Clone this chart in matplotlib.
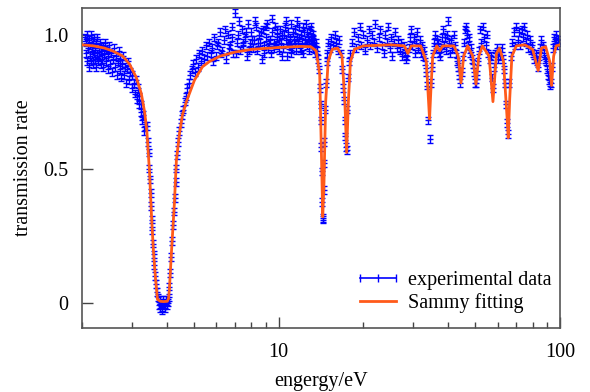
import matplotlib
matplotlib.use('Agg')
from matplotlib import pyplot as plt
from matplotlib.lines import Line2D
import numpy as np

# experimental points: (energy in eV, transmission)
exp_low = [
    (2.05, 0.99), (2.06, 0.93), (2.07, 0.97), (2.08, 0.90), (2.09, 1.00), (2.10, 0.95),
    (2.11, 0.88), (2.12, 0.98), (2.13, 0.92), (2.14, 0.96), (2.15, 0.90), (2.16, 1.00),
    (2.17, 0.94), (2.18, 0.89), (2.19, 0.97), (2.20, 0.93), (2.21, 0.99), (2.22, 0.91),
    (2.23, 0.95), (2.24, 0.88), (2.25, 0.97), (2.26, 0.93), (2.27, 0.99), (2.28, 0.90),
    (2.29, 0.95), (2.30, 0.92), (2.32, 0.97), (2.33, 0.89), (2.34, 0.94), (2.36, 0.91),
    (2.37, 0.96), (2.38, 0.88), (2.40, 0.93), (2.42, 0.97), (2.43, 0.90), (2.45, 0.94),
    (2.47, 0.87), (2.48, 0.92), (2.50, 0.96), (2.52, 0.89), (2.54, 0.93), (2.56, 0.86),
    (2.58, 0.91), (2.60, 0.95), (2.62, 0.88), (2.64, 0.92), (2.66, 0.85), (2.68, 0.90),
    (2.70, 0.94), (2.72, 0.87), (2.74, 0.91), (2.76, 0.84), (2.78, 0.89), (2.80, 0.92),
    (2.82, 0.85), (2.85, 0.88), (2.87, 0.82), (2.90, 0.87), (2.92, 0.90), (2.95, 0.83),
    (2.97, 0.86), (3.00, 0.80), (3.02, 0.85), (3.05, 0.82), (3.08, 0.78), (3.10, 0.83),
    (3.13, 0.76), (3.15, 0.80), (3.18, 0.74), (3.20, 0.77), (3.23, 0.71), (3.25, 0.74),
    (3.28, 0.68), (3.30, 0.70), (3.33, 0.64), (3.36, 0.66),
]

exp_bigdip = [
    (3.40, 0.66), (3.42, 0.60), (3.45, 0.56), (3.47, 0.50), (3.49, 0.46), (3.51, 0.41),
    (3.53, 0.36), (3.55, 0.31), (3.56, 0.27), (3.58, 0.22), (3.60, 0.18), (3.62, 0.14),
    (3.64, 0.10), (3.66, 0.07), (3.69, 0.04), (3.72, 0.02), (3.75, -0.01), (3.78, 0.01),
    (3.80, -0.02), (3.83, 0.00), (3.85, -0.03), (3.87, 0.01), (3.90, -0.01), (3.92, 0.00),
    (3.95, -0.02), (3.97, 0.01), (4.00, -0.01), (4.03, 0.00), (4.06, 0.02), (4.09, 0.06),
    (4.12, 0.11), (4.15, 0.17), (4.18, 0.23), (4.21, 0.29), (4.24, 0.34), (4.27, 0.39),
    (4.30, 0.45), (4.33, 0.50), (4.36, 0.55), (4.40, 0.60), (4.44, 0.64), (4.48, 0.67),
    (4.53, 0.70), (4.58, 0.72), (4.63, 0.75), (4.68, 0.77), (4.74, 0.80), (4.80, 0.82),
    (4.86, 0.85), (4.92, 0.87), (4.98, 0.89), (5.05, 0.86), (5.10, 0.91), (5.16, 0.88),
    (5.22, 0.93), (5.28, 0.90), (5.35, 0.94), (5.42, 0.91), (5.50, 0.96), (5.58, 0.92),
    (5.66, 0.97), (5.74, 0.93),
]

exp_plateau = [
    (5.8, 0.95), (5.9, 0.99), (6.0, 0.92), (6.1, 0.97), (6.2, 1.01), (6.3, 0.94),
    (6.4, 0.98), (6.5, 0.91), (6.6, 1.00), (6.7, 0.96), (6.8, 1.03), (6.9, 0.93),
    (7.0, 1.08), (7.1, 0.97), (7.2, 1.00), (7.3, 0.94), (7.4, 1.02), (7.5, 0.96),
    (7.6, 0.99), (7.7, 0.92), (7.8, 1.04), (7.9, 0.97), (8.0, 1.01), (8.1, 0.95),
    (8.2, 0.98), (8.3, 1.03), (8.4, 0.94), (8.5, 1.00), (8.6, 0.97), (8.7, 0.91),
    (8.8, 1.02), (8.9, 0.96), (9.0, 0.99), (9.1, 1.04), (9.2, 0.95), (9.3, 0.98),
    (9.4, 0.93), (9.5, 1.01), (9.6, 0.97), (9.7, 1.03), (9.8, 0.96), (9.9, 0.99),
    (10.0, 0.94), (10.1, 1.02), (10.2, 0.97), (10.3, 1.00), (10.4, 0.95), (10.5, 1.03),
    (10.6, 0.98), (10.7, 0.92), (10.8, 1.01), (10.9, 0.96), (11.0, 0.99), (11.1, 1.04),
    (11.2, 0.95), (11.3, 0.98), (11.4, 1.02), (11.5, 0.94), (11.6, 0.99), (11.7, 0.97),
    (11.8, 1.03), (11.9, 0.95), (12.0, 1.00), (12.1, 0.97), (12.2, 0.93), (12.3, 1.01),
    (12.4, 0.98), (12.5, 1.04), (12.6, 0.96), (12.7, 0.99), (12.8, 0.94), (12.9, 1.02),
    (13.0, 0.97), (13.1, 0.99), (13.2, 0.95), (13.3, 0.98), (13.4, 0.96), (13.5, 0.93),
    (5.85, 0.90), (6.05, 0.96), (6.25, 0.93), (6.45, 1.02), (6.65, 0.95), (6.85, 0.99),
    (7.05, 0.93), (7.25, 1.05), (7.45, 0.97), (7.65, 1.01), (7.85, 0.94), (8.05, 0.98),
    (8.25, 1.05), (8.45, 0.97), (8.65, 1.01), (8.85, 0.93), (9.05, 1.03), (9.25, 0.97),
    (9.45, 1.06), (9.65, 0.95), (9.85, 1.02), (10.05, 0.98), (10.25, 0.92), (10.45, 1.00),
    (10.65, 1.05), (10.85, 0.97), (11.05, 0.93), (11.25, 1.01), (11.45, 0.97), (11.65, 1.05),
    (11.85, 0.99), (12.05, 0.94), (12.25, 1.03), (12.45, 0.97), (12.65, 1.01), (12.85, 0.98),
    (13.05, 1.03), (13.25, 1.00),
]

exp_resonances = [
    (13.6, 0.97), (13.7, 0.94), (13.8, 0.91), (13.9, 0.87), (14.0, 0.80), (14.1, 0.74),
    (14.15, 0.68), (14.2, 0.58), (14.25, 0.49), (14.3, 0.375), (14.35, 0.316), (14.38, 0.31),
    (14.45, 0.42), (14.5, 0.52), (14.55, 0.60), (14.6, 0.72), (14.7, 0.82), (14.8, 0.90),
    (14.9, 0.93), (15.0, 0.97), (15.2, 0.95), (15.4, 0.99), (15.6, 0.96), (15.8, 1.00),
    (16.0, 0.97), (16.2, 0.94), (16.4, 0.98), (16.6, 0.93), (16.8, 0.87), (16.95, 0.80),
    (17.05, 0.755), (17.15, 0.68), (17.25, 0.62), (17.35, 0.58), (17.45, 0.57), (17.55, 0.72),
    (17.7, 0.84), (17.85, 0.90), (18.0, 0.93),
    (18.2, 0.97), (18.5, 1.01), (18.8, 0.95), (19.1, 0.99), (19.4, 1.03), (19.7, 0.96),
    (20.0, 1.00), (20.3, 0.94), (20.6, 0.98), (20.9, 1.02), (21.2, 0.96), (21.5, 1.00),
    (21.8, 0.97), (22.1, 1.04), (22.4, 0.95), (22.7, 0.99), (23.0, 1.02), (23.3, 0.96),
    (23.6, 0.93), (23.9, 1.00), (24.2, 0.97), (24.5, 1.03), (24.8, 0.95), (25.1, 0.99),
    (25.4, 0.92), (25.7, 0.97), (26.0, 1.01), (26.3, 0.95), (26.6, 0.98), (26.9, 0.94),
    (27.2, 0.97), (27.5, 0.92), (27.8, 0.96), (28.1, 0.93), (28.4, 0.91), (28.7, 0.92),
    (29.0, 0.95), (29.3, 0.99),
]

exp_high = [
    (29.6, 1.02), (29.9, 0.96), (30.2, 0.99), (30.5, 0.93), (30.8, 0.97), (31.1, 1.01),
    (31.4, 0.95), (31.7, 0.98), (32.0, 0.93), (32.3, 0.96), (32.6, 0.92), (32.9, 0.94),
    (33.2, 0.90), (33.5, 0.86), (33.8, 0.81), (34.1, 0.68), (34.4, 0.61), (34.7, 0.82),
    (35.0, 0.88), (35.3, 0.93), (35.6, 0.97), (35.9, 1.00), (36.2, 0.95), (36.5, 0.98),
    (36.8, 0.97), (37.1, 0.93), (37.4, 0.92), (37.7, 0.95), (38.0, 0.99), (38.3, 1.02),
    (38.6, 0.96), (38.9, 0.99), (39.2, 0.94), (39.6, 1.00), (39.9, 1.05), (40.3, 0.97),
    (40.7, 0.93), (41.1, 0.98), (41.5, 0.95), (41.9, 1.00), (42.3, 0.96), (42.7, 0.93),
    (43.1, 0.90), (43.5, 0.88), (43.9, 0.85), (44.3, 0.82), (44.7, 0.86), (45.1, 0.92),
    (45.5, 0.97), (45.9, 1.02), (46.3, 1.03), (46.7, 1.00), (47.1, 0.96), (47.5, 0.99),
    (47.9, 0.93), (48.3, 0.95), (48.7, 0.91), (49.1, 0.89), (49.5, 0.86), (49.9, 0.82),
    (50.3, 0.82), (50.7, 0.85), (51.1, 0.90), (51.5, 0.94),
    (52.0, 1.02), (52.6, 0.97), (53.2, 1.03), (53.8, 0.99), (54.4, 0.96), (55.0, 1.00),
    (55.6, 0.93), (56.2, 0.91), (56.8, 0.92), (57.4, 0.84), (57.9, 0.80), (58.4, 0.88),
    (59.0, 0.93), (59.6, 0.95), (60.2, 0.91), (60.8, 0.94), (61.4, 0.92), (62.0, 0.95),
    (62.6, 0.91), (63.2, 0.87), (63.7, 0.82), (64.3, 0.74), (64.9, 0.67), (65.5, 0.63),
    (66.0, 0.82), (66.8, 0.92), (67.6, 0.97), (68.4, 1.01), (69.2, 0.96), (70.0, 1.03),
    (70.8, 0.98), (71.6, 1.01), (72.4, 0.96), (73.2, 1.02), (74.0, 0.99), (74.8, 1.03),
    (75.6, 0.97), (76.4, 1.00), (77.2, 0.95), (78.0, 0.98), (78.8, 0.94), (79.6, 0.96),
    (80.4, 0.93), (81.2, 0.91), (82.0, 0.93), (82.8, 0.90), (83.6, 0.88), (84.4, 0.92),
    (85.2, 0.95), (86.0, 0.98), (86.8, 0.96), (87.6, 0.93), (88.4, 0.91), (89.2, 0.90),
    (90.0, 0.87), (90.8, 0.85), (91.6, 0.83), (92.4, 0.81), (93.2, 0.82), (94.0, 0.88),
    (94.8, 0.95), (95.6, 0.99), (96.4, 0.97), (97.2, 1.00), (98.0, 0.96), (98.8, 0.98),
    (99.6, 0.97),
]

exp_err = 0.014

# SAMMY fit curve
fit_energy = [2.0, 2.2, 2.4, 2.56, 2.79, 2.95, 3.12, 3.25, 3.34, 3.40, 3.475, 3.53, 3.59,
              3.65, 3.68, 3.71, 3.8, 3.9, 4.02, 4.06, 4.09, 4.16, 4.26, 4.33, 4.44, 4.55,
              4.70, 5.02, 5.36, 5.68, 6.2, 7.0, 8.0, 10.0, 12.0, 13.0, 13.6, 14.0, 14.2,
              14.35, 14.5, 14.7, 15.0, 15.5, 16.2, 16.8, 17.2, 17.45, 17.7, 18.0, 18.6,
              20.0, 25.0, 28.0, 28.8, 29.6, 32.0, 33.5, 34.0, 34.4, 34.8, 35.3, 36.5, 37.4,
              38.3, 42.0, 43.5, 44.5, 45.5, 47.0, 49.0, 50.3, 51.5, 53.0, 56.0, 57.8, 59.5,
              61.0, 63.0, 64.8, 65.5, 66.3, 67.5, 70.0, 75.0, 80.0, 83.7, 86.0, 89.0, 92.0,
              93.4, 95.0, 97.0, 100.0]
fit_trans = [0.962, 0.958, 0.950, 0.940, 0.920, 0.890, 0.840, 0.780, 0.710, 0.640, 0.49, 0.33,
             0.19, 0.09, 0.05, 0.012, 0.005, 0.004, 0.005, 0.015, 0.05, 0.19, 0.37, 0.53, 0.63,
             0.70, 0.75, 0.83, 0.88, 0.90, 0.92, 0.935, 0.945, 0.952, 0.956, 0.955, 0.94, 0.85,
             0.55, 0.32, 0.45, 0.75, 0.90, 0.945, 0.95, 0.92, 0.75, 0.56, 0.75, 0.90, 0.945,
             0.958, 0.962, 0.958, 0.93, 0.958, 0.958, 0.90, 0.78, 0.685, 0.80, 0.92, 0.958,
             0.94, 0.958, 0.958, 0.92, 0.82, 0.92, 0.958, 0.92, 0.815, 0.92, 0.958, 0.92, 0.75,
             0.93, 0.95, 0.90, 0.70, 0.615, 0.76, 0.92, 0.958, 0.962, 0.945, 0.866, 0.95, 0.955,
             0.90, 0.81, 0.92, 0.958, 0.962]

exp_all = exp_low + exp_bigdip + exp_plateau + exp_resonances + exp_high
exp_energy = np.array([p[0] for p in exp_all])
exp_trans = np.array([p[1] for p in exp_all])

plt.rcParams['font.family'] = ['Liberation Serif', 'DejaVu Serif']
plt.rcParams['font.size'] = 14.5

fig = plt.figure(figsize=(5.9, 3.92), dpi=100)
ax = fig.add_axes([0.139, 0.163, 0.810, 0.817])

ax.errorbar(exp_energy, exp_trans, yerr=exp_err, fmt='_', color='blue', ms=4,
            elinewidth=1.0, capsize=2.4, capthick=1.0, zorder=2)
ax.plot(fit_energy, fit_trans, color='#ff5a1a', lw=2.0, zorder=3)

ax.set_xscale('log')
ax.set_xlim(2, 100)
ax.set_ylim(-0.095, 1.1)
ax.set_xticks([10, 100])
ax.set_xticklabels(['10', '100'])
ax.set_yticks([0, 0.5, 1.0])
ax.set_yticklabels(['0', '0.5', '1.0'])
ax.tick_params(which='both', direction='in', colors='#444444', labelcolor='black')
ax.tick_params(which='major', length=8, width=1)
ax.tick_params(axis='y', which='major', pad=10)
ax.tick_params(axis='x', which='major', pad=11)
ax.tick_params(which='minor', length=4, width=1)
for s in ax.spines.values():
    s.set_color('#555555')
    s.set_linewidth(1.2)

ax.set_xlabel('engergy/eV', labelpad=7)
ax.set_ylabel('transmission rate', labelpad=7)

handles = [Line2D([], [], color='blue', lw=1.2, marker='|', ms=6, mew=1.0),
           Line2D([], [], color='#ff5a1a', lw=2.0)]
ax.legend(handles, ['experimental data', 'Sammy fitting'], loc='lower right',
          bbox_to_anchor=(1.02, -0.01), frameon=False, numpoints=3, handlelength=2.4,
          handletextpad=0.3, labelspacing=0.15)

fig.savefig('out.png', dpi=100)
